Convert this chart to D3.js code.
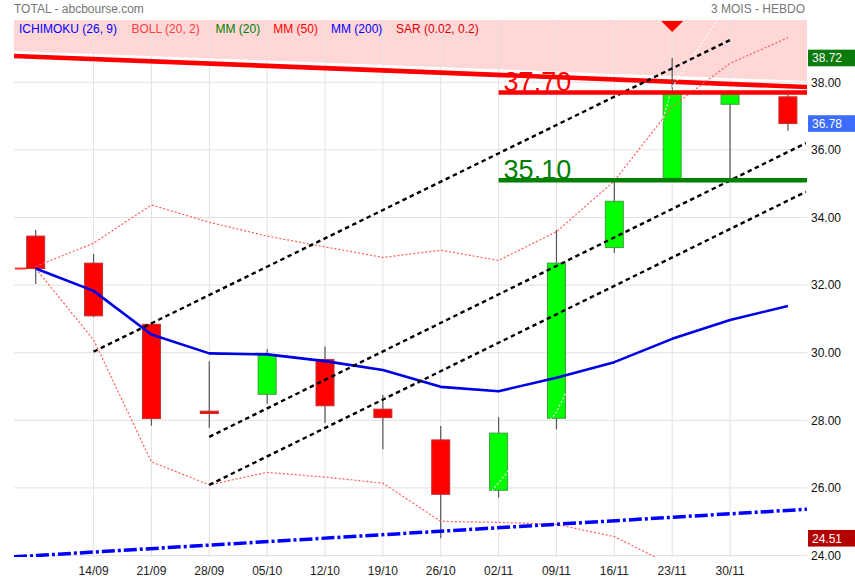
<!DOCTYPE html>
<html>
<head>
<meta charset="utf-8">
<script src="https://cdn.jsdelivr.net/npm/d3@7"></script>
<style>
  body { margin: 0; background: #fff; }
  svg { display: block; font-family: "Liberation Sans", Arial, sans-serif; }
</style>
</head>
<body>
<svg id="chart" width="855" height="580"></svg>
<script>
// ---------------- DATA ----------------
const weeks = ["07/09","14/09","21/09","28/09","05/10","12/10","19/10","26/10","02/11","09/11","16/11","23/11","30/11","07/12"];
const tickLabels = ["14/09","21/09","28/09","05/10","12/10","19/10","26/10","02/11","09/11","16/11","23/11","30/11"];
const openP  = [33.45, 32.65, 30.84, 28.27, 28.77, 29.80, 28.33, 27.42, 25.93, 28.06, 33.11, 35.16, 37.35, 37.57];
const highP  = [33.63, 32.92, 30.87, 29.75, 30.11, 30.18, 28.75, 27.83, 28.09, 33.63, 35.05, 38.72, 37.70, 37.64];
const lowP   = [32.03, 31.05, 27.84, 27.78, 28.49, 27.93, 27.14, 24.51, 25.71, 27.73, 32.96, 35.10, 35.15, 36.57];
const closeP = [32.49, 31.09, 28.05, 28.20, 29.94, 28.43, 28.08, 25.81, 27.62, 32.65, 34.48, 37.67, 37.65, 36.78];
const blueLine  = [32.49, 31.83, 30.54, 29.98, 29.95, 29.75, 29.49, 28.99, 28.86, 29.26, 29.72, 30.41, 30.97, 31.38];
const bollUpper = [32.55, 33.24, 34.37, 33.86, 33.45, 33.13, 32.82, 33.03, 32.73, 33.58, 35.08, 37.28, 38.56, 39.32];
const bollLower = [32.49, 30.38, 26.77, 26.09, 26.46, 26.32, 26.14, 25.01, 24.98, 24.92, 24.56, 23.70, 23.00, 22.60];
const whiteDotIdx = [7, 8, 9, 10, 11, 12];
const whiteDotVal = [24.10, 26.15, 28.24, 31.80, 37.86, 40.40];
const priceTicks = [24, 26, 28, 30, 32, 34, 36, 38];
// trend lines: [week index, price]
const resistanceLine = [[-0.375, 38.78], [13.33, 37.86]];
const channelUpper   = [[1, 30.03], [12, 39.25]];
const channelMiddle  = [[3, 27.51], [13.31, 36.20]];
const channelLower   = [[3, 26.09], [13.31, 34.76]];
const mm200Line      = [[-0.375, 23.96], [13.33, 25.37]];
const startStub      = [[-0.36, 32.49], [-0.16, 32.49]];
const levelValues = [37.70, 35.10];
const levelStart = 8;
const sarSignals = [11];
const periodHigh = 38.72, lastClose = 36.78, periodLow = 24.51;
const legendItems = ["ICHIMOKU (26, 9)", "BOLL (20, 2)", "MM (20)", "MM (50)", "MM (200)", "SAR (0.02, 0.2)"];

// ---------------- LAYOUT ----------------
const L = 14, R = 807, T = 20, B = 557;
const svg = d3.select("#chart");
const x = d3.scaleLinear().domain([-0.375, 13.33]).range([L, R]);
const y = d3.scaleLinear().domain([24, 38]).range([555.5, 82.3]);

svg.append("defs").append("clipPath").attr("id", "plot")
  .append("rect").attr("x", L).attr("y", T).attr("width", R - L).attr("height", B - T);

const g = svg.append("g").attr("clip-path", "url(#plot)");

// pink band above resistance
const rl = resistanceLine;
g.append("path")
  .attr("d", `M${x(rl[0][0])},${T} L${x(rl[1][0])},${T} L${x(rl[1][0])},${y(rl[1][1]) - 6} L${x(rl[0][0])},${y(rl[0][1]) - 5} Z`)
  .attr("fill", "#ff0000").attr("fill-opacity", 0.155);

// grid
g.append("g").selectAll("line").data(priceTicks).join("line")
  .attr("x1", L).attr("x2", R).attr("y1", d => y(d)).attr("y2", d => y(d))
  .attr("stroke", "#e2e2e2").attr("stroke-width", 1);
g.append("g").selectAll("line").data(tickLabels).join("line")
  .attr("x1", d => x(weeks.indexOf(d))).attr("x2", d => x(weeks.indexOf(d)))
  .attr("y1", T).attr("y2", 562)
  .attr("stroke", "#e2e2e2").attr("stroke-width", 1);

// resistance trend line
const lineGen = d3.line().x(d => x(d[0])).y(d => y(d[1]));
g.append("path").attr("d", lineGen(resistanceLine))
  .attr("stroke", "#ff0000").attr("stroke-width", 4.6).attr("fill", "none");

// small stub at start
g.append("path").attr("d", lineGen(startStub))
  .attr("stroke", "#ff3030").attr("stroke-width", 2).attr("fill", "none");

// candles
const idx = d3.range(weeks.length);
const cg = g.append("g");
cg.selectAll("line.wick").data(idx).join("line").attr("class", "wick")
  .attr("x1", i => x(i)).attr("x2", i => x(i))
  .attr("y1", i => y(highP[i])).attr("y2", i => y(lowP[i]))
  .attr("stroke", "#555").attr("stroke-width", 1.2);
cg.selectAll("rect").data(idx).join("rect")
  .attr("x", i => x(i) - 9).attr("width", 18)
  .attr("y", i => y(Math.max(openP[i], closeP[i])))
  .attr("height", i => Math.max(2, Math.abs(y(openP[i]) - y(closeP[i]))))
  .attr("fill", i => closeP[i] >= openP[i] ? "#00ff00" : "#ff0000")
  .attr("stroke", i => closeP[i] >= openP[i] ? "#3aa03a" : "#c03030")
  .attr("stroke-width", 1);

// bollinger
const seriesLine = d3.line().x((d, i) => x(i)).y(d => y(d));
[bollUpper, bollLower].forEach(s => {
  g.append("path").attr("d", seriesLine(s)).attr("fill", "none")
    .attr("stroke", "#ff5a5a").attr("stroke-width", 1.2).attr("stroke-dasharray", "2,2");
});

// white dotted
g.append("path").attr("d", d3.line().x((d, k) => x(whiteDotIdx[k])).y(d => y(d))(whiteDotVal))
  .attr("fill", "none").attr("stroke", "#ffffff").attr("stroke-width", 1.2).attr("stroke-dasharray", "2,2");

// MM200 dash-dot
g.append("path").attr("d", lineGen(mm200Line)).attr("fill", "none")
  .attr("stroke", "#0000ff").attr("stroke-width", 3.5).attr("stroke-dasharray", "13,3,3,3");

// blue solid line
g.append("path").attr("d", seriesLine(blueLine))
  .attr("fill", "none").attr("stroke", "#0000e6").attr("stroke-width", 2.6).attr("stroke-linejoin", "round");

// channel dashed lines
[channelUpper, channelMiddle, channelLower].forEach(c => {
  g.append("path").attr("d", lineGen(c)).attr("fill", "none")
    .attr("stroke", "#000").attr("stroke-width", 2.4).attr("stroke-dasharray", "4.5,3.5");
});

// level lines + labels
const levelColors = ["#ff0000", "#008000"];
levelValues.forEach((v, k) => {
  g.append("line").attr("x1", x(levelStart)).attr("x2", R)
    .attr("y1", y(v)).attr("y2", y(v))
    .attr("stroke", levelColors[k]).attr("stroke-width", 4.4);
  g.append("text").attr("x", x(levelStart) + 5).attr("y", y(v) - 1)
    .attr("font-size", 27).attr("fill", levelColors[k]).text(v.toFixed(2));
});

// SAR signal triangle
g.selectAll("path.sig").data(sarSignals).join("path").attr("class", "sig")
  .attr("d", i => `M${x(i) - 11},${T + 1} L${x(i) + 11},${T + 1} L${x(i)},${T + 12} Z`)
  .attr("fill", "#ff0000");

// legend
const legendX = [19, 131.5, 215.5, 273.3, 331, 396];
const legendColors = ["#0000ff", "#ff4040", "#008000", "#ff0000", "#0000ff", "#dd0000"];
svg.append("g").selectAll("text").data(legendItems).join("text")
  .attr("x", (d, k) => legendX[k]).attr("y", 33.3)
  .attr("font-size", 12).attr("fill", (d, k) => legendColors[k]).text(d => d);

// titles
svg.append("text").attr("x", 14).attr("y", 13).attr("font-size", 12).attr("fill", "#777").text("TOTAL - abcbourse.com");
svg.append("text").attr("x", 805).attr("y", 13).attr("font-size", 12).attr("fill", "#777")
  .attr("text-anchor", "end").text("3 MOIS - HEBDO");

// right axis
const yAxis = svg.append("g");
yAxis.selectAll("text").data(priceTicks).join("text")
  .attr("x", 811).attr("y", d => y(d) + 4.3).attr("font-size", 12).attr("fill", "#111")
  .text(d => d.toFixed(2));

// value boxes
const boxes = [[periodHigh, "#0a7a0a"], [lastClose, "#3d6dfc"], [periodLow, "#b30000"]];
boxes.forEach(([v, col]) => {
  svg.append("rect").attr("x", 808).attr("y", y(v) - 8.3).attr("width", 47).attr("height", 16.6).attr("fill", col);
  svg.append("text").attr("x", 812).attr("y", y(v) + 4.4).attr("font-size", 12).attr("fill", "#fff").text(v.toFixed(2));
});

// bottom axis
svg.append("g").selectAll("text").data(tickLabels).join("text")
  .attr("x", d => x(weeks.indexOf(d))).attr("y", 575).attr("text-anchor", "middle")
  .attr("font-size", 12).attr("fill", "#222").text(d => d);
</script>
</body>
</html>
